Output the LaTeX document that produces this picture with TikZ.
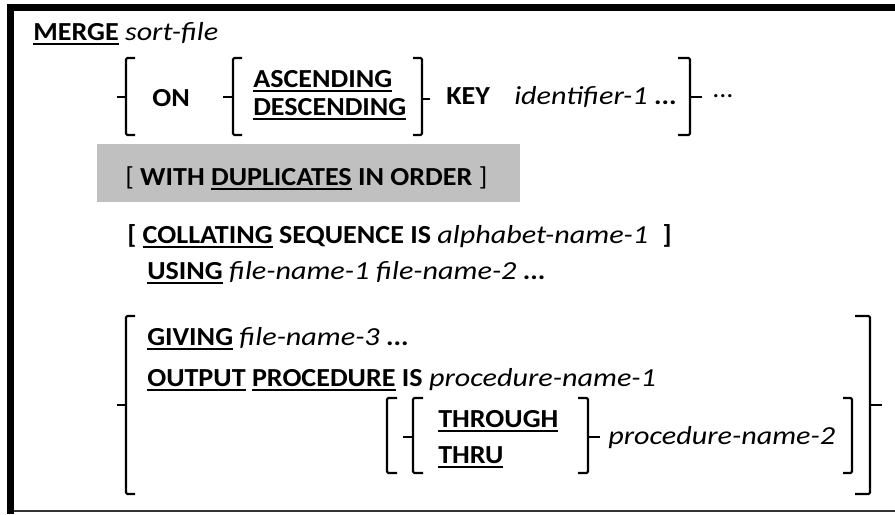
\documentclass[tikz,border=0pt]{standalone}
\usepackage{fontspec}
\setmainfont{Carlito}[FakeStretch=1.08, ItalicFeatures={FakeStretch=1.16}]
\newcommand{\kw}[1]{{\bfseries\setbox0\hbox{#1}\rlap{\rule[-3.4pt]{\wd0}{1.5pt}}\box0}}
\definecolor{band}{HTML}{C0C0C0}

\begin{document}
\begin{tikzpicture}[x=0.75pt, y=-0.75pt,
  every node/.style={font=\fontsize{19.5}{22}\selectfont, inner sep=0pt, anchor=base west},
  brk/.style={line width=1.6pt, rounded corners=1pt}]
\useasboundingbox (0,0) rectangle (895,514);
% frame
\fill (7,4) rectangle (895,11);
\fill (7,4) rectangle (14,514);
\draw[line width=1.5pt, black!80] (14,511) -- (895,511);
% shaded optional phrase
\fill[band] (97,144) rectangle (520,202);
% braces: x / top / bottom / tick y / hook / tip
\foreach \x/\ya/\yb/\ym/\h/\t in {126/58/135/97/9/-9, 233/58/135/97/9/-10, 422/58/135/99/-9/8,
    690/58/135/97/-12/12, 126/316/494/405/9/-9, 870/316/494/405/-15/12,
    413/398/473/437/10/-10, 588/398/473/437/-10/12} {
  \draw[brk] (\x+\h,\ya) -- (\x,\ya) -- (\x,\yb) -- (\x+\h,\yb);
  \draw[brk] (\x,\ym) -- (\x+\t,\ym);}
% square brackets round THROUGH/THRU
\draw[brk] (397,398) -- (387,398) -- (387,473) -- (397,473);
\draw[brk] (843,398) -- (852,398) -- (852,473) -- (843,473);
% text
\node (merge) at (33,40) {\kw{MERGE} \textit{sort-file}};
\node (on) at (152,106) {\textbf{ON}};
\node (asc) at (253,87) {\kw{ASCENDING}};
\node (desc) at (253,115) {\kw{DESCENDING}};
\node (key) at (446,104) {\textbf{KEY}};
\node (ident) at (514,104) {\textit{identifier-1} \textbf{...}};
\node (rep) at (712,97) {...};
\node (dup) at (125,185) {[ \textbf{WITH \kw{DUPLICATES} IN ORDER} ]};
\node (coll) at (127,243) {\textbf{[ \kw{COLLATING} SEQUENCE IS} \textit{alphabet-name-1}\hspace{0.55em}\textbf{]}};
\node (using) at (147,279) {\kw{USING} \textit{file-name-1 file-name-2} \textbf{...}};
\node (giving) at (147,345) {\kw{GIVING} \textit{file-name-3} \textbf{...}};
\node (output) at (147,386) {\kw{OUTPUT} \kw{PROCEDURE} \textbf{IS} \textit{procedure-name-1}};
\node (through) at (438,427) {\kw{THROUGH}};
\node (thru) at (438,463) {\kw{THRU}};
\node (proc) at (608,444) {\textit{procedure-name-2}};
\end{tikzpicture}
\end{document}
